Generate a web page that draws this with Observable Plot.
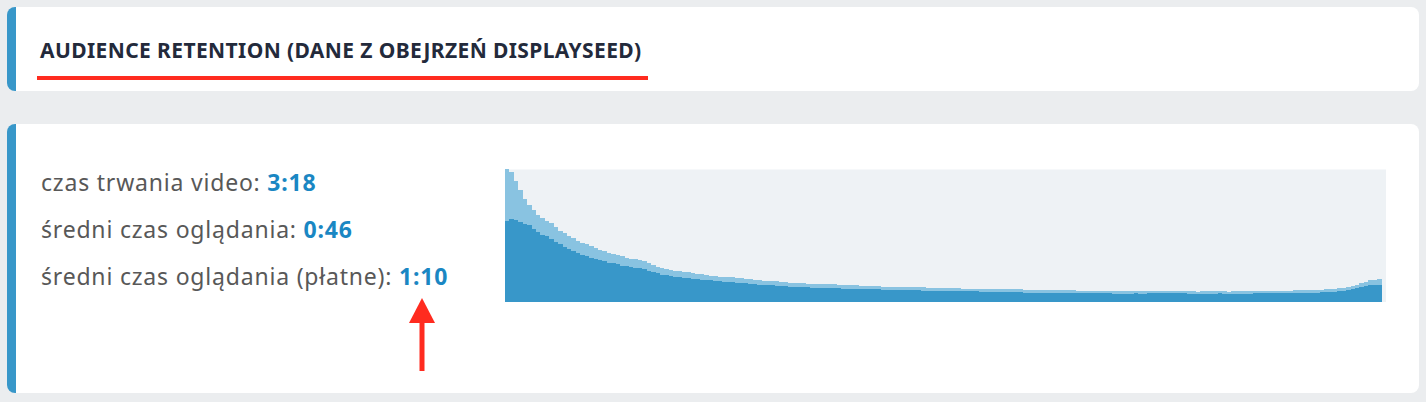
<!DOCTYPE html>
<html><head><meta charset="utf-8">
<script src="https://cdn.jsdelivr.net/npm/d3@7"></script>
<script src="https://cdn.jsdelivr.net/npm/@observablehq/plot@0.6"></script>
<style>
html,body{margin:0;padding:0;}
body{width:1426px;height:402px;background:#ebedef;position:relative;overflow:hidden;font-family:"Noto Sans",sans-serif;}
.card{position:absolute;left:7px;width:1412px;background:#fff;border-radius:8px;border-left:9px solid #3897c9;box-sizing:border-box;}
#title{position:absolute;left:40px;top:35.5px;font-size:21px;line-height:normal;letter-spacing:0.4px;font-weight:700;color:#232a3b;white-space:nowrap;}
#uline{position:absolute;left:37px;top:76px;width:611px;height:4px;background:#ff2b1f;}
.stat{position:absolute;left:41px;font-size:23px;line-height:normal;letter-spacing:0.8px;color:#585858;white-space:nowrap;}
.stat b{color:#1a87c3;}
#chart{position:absolute;left:505px;top:169px;}
#arrow{position:absolute;left:0;top:0;}
</style></head>
<body>
<div class="card" style="top:7px;height:84px;"></div>
<div class="card" style="top:124px;height:269px;"></div>
<div id="title"></div>
<div id="uline"></div>
<div id="stats"></div>
<div id="chart"></div>
<svg id="arrow" width="1426" height="402"><rect x="419.5" y="320" width="5" height="51" fill="#ff2b1f"/><polygon points="422,298 409,323 435,323" fill="#ff2b1f"/></svg>
<script>
const titleText = "AUDIENCE RETENTION (DANE Z OBEJRZEŃ DISPLAYSEED)";
const statLabels = ["czas trwania video: ", "średni czas oglądania: ", "średni czas oglądania (płatne): "];
const statValues = ["3:18", "0:46", "1:10"];

// retention (% of starting audience) per second of a 198 s video
const retentionAll = [
100,97.7,91,84.2,77.4,72.9,69.2,65.4,63.2,60.9,
59.4,56.4,53.4,51.9,49.6,48.1,45.9,44.4,43.6,42.1,
40.6,39.1,38.3,36.8,36.1,35.3,34.6,33.1,32.3,32.3,
31.6,30.8,29.3,27.8,26.3,25.6,24.8,24.1,23.3,23.3,
22.6,22.6,21.8,21.1,21.1,20.3,19.5,19.5,18.8,18.8,
18.8,18.8,18,18,17.3,17.3,16.5,16.5,15.8,15.8,
15.8,15.8,15,15,14.3,14.3,14.3,14.3,13.5,13.5,
13.5,13.5,13.5,13.5,13.5,12.8,12.8,12.8,12.8,12.8,
12,12,12,12,12,11.3,11.3,11.3,11.3,11.3,
11.3,11.3,11.3,11.3,11.3,10.5,10.5,10.5,10.5,10.5,
10.5,10.5,10.5,9.8,9.8,9.8,9.8,9.8,9.8,9.8,
9.8,9.8,9.8,9.8,9.8,9.8,9.8,9,9,9,
9,9,9,9,9,9,9,9,9,8.3,
8.3,8.3,8.3,8.3,8.3,8.3,8.3,8.3,8.3,8.3,
8.3,8.3,8.3,8.3,8.3,8.3,8.3,8.3,8.3,8.3,
8.3,8.3,8.3,8.3,8.3,8.3,7.5,8.3,8.3,8.3,
8.3,8.3,8.3,7.5,8.3,8.3,8.3,8.3,8.3,8.3,
8.3,8.3,8.3,8.3,8.3,8.3,8.3,8.3,9,9,
9,9,9,9,9,9.8,9.8,9.8,10.5,10.5,
11.3,12,12.8,14.3,15,16.5,16.5,17.3];

const retentionPaid = [
60.9,62.4,61.7,60.2,58.6,57.9,54.9,52.6,50.4,49.6,
47.4,45.1,43.6,41.4,39.8,38.3,36.8,35.3,34.6,33.1,
32.3,31.6,30.8,29.3,29.3,28.6,27.1,27.1,26.3,25.6,
25.6,24.8,23.3,22.6,21.8,20.3,20.3,19.5,18.8,18.8,
18,18,17.3,17.3,16.5,16.5,16.5,15.8,15.8,15,
15,15,14.3,14.3,14.3,13.5,13.5,12.8,12.8,12.8,
12.8,12,12,12,11.3,11.3,11.3,11.3,11.3,10.5,
10.5,10.5,10.5,10.5,10.5,10.5,9.8,9.8,9.8,9.8,
9.8,9.8,9.8,9.8,9.8,9,9,9,9,9,
9,9,9,9,8.3,8.3,8.3,8.3,8.3,8.3,
8.3,8.3,8.3,8.3,8.3,8.3,8.3,7.5,7.5,7.5,
7.5,7.5,7.5,7.5,7.5,7.5,7.5,6.8,6.8,6.8,
6.8,6.8,6.8,6.8,6.8,6.8,6.8,6.8,6.8,6.8,
6.8,6.8,6.8,6.8,6.8,6.8,6.8,6,6,6,
6,6,6.8,6,6,6.8,6.8,6.8,6.8,6.8,
6.8,6.8,6.8,6.8,6,6,6,6,6,6,
6,6.8,6,6,6,6,6,6,6,6.8,
6.8,6.8,6.8,6.8,6.8,6.8,6.8,6.8,6.8,6.8,
6.8,6.8,6.8,6.8,7.5,7.5,7.5,7.5,8.3,8.3,
9,9.8,10.5,11.3,12,12.8,12.8,12.8];

document.getElementById("title").textContent = titleText;
const stats = document.getElementById("stats");
const statTops = [166.4, 213.4, 260.4];
statLabels.forEach((l, k) => {
  const d = document.createElement("div");
  d.className = "stat";
  d.style.top = statTops[k] + "px";
  d.append(l);
  const b = document.createElement("b");
  b.textContent = statValues[k];
  d.append(b);
  stats.append(d);
});

const data = retentionAll.map((v, i) => ({s: i, e: i + 1, all: v, paid: retentionPaid[i]}));
const chart = Plot.plot({
  width: 881, height: 133, margin: 0,
  x: {domain: [0, 199], axis: null},
  y: {domain: [0, 100], axis: null},
  marks: [
    Plot.frame({fill: "#eef2f5", stroke: null}),
    Plot.rectY(data, {x1: "s", x2: "e", y: "all", fill: "#89c3e1", shapeRendering: "crispEdges"}),
    Plot.rectY(data, {x1: "s", x2: "e", y: "paid", fill: "#3897c9", shapeRendering: "crispEdges"})
  ]
});
document.getElementById("chart").append(chart);
</script>
</body></html>
